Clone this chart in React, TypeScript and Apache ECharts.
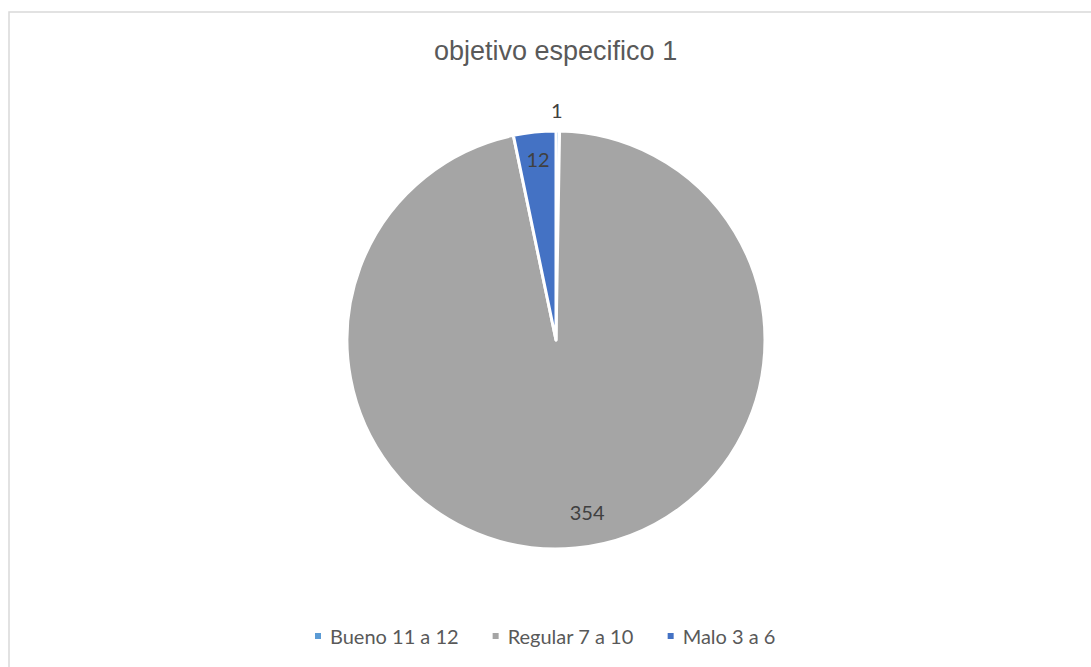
import React, { useEffect, useRef } from "react";
import * as echarts from "echarts";

const titleText = "objetivo especifico 1";
const categories = ["Bueno 11 a 12", "Regular 7 a 10", "Malo 3 a 6"];
const values = [1, 354, 12];
const colors = ["#5b9bd5", "#a5a5a5", "#4472c4"];
const labelOffsets: [number, number][] = [[0, -123], [21, 65], [-7, -74]];

export default function App() {
  const ref = useRef<HTMLDivElement>(null);
  useEffect(() => {
    if (!ref.current) return;
    const chart = echarts.init(ref.current, null, { renderer: "svg" });
    chart.setOption({
      animation: false,
      backgroundColor: "#ffffff",
      title: {
        text: titleText,
        left: 429,
        top: 32,
        textStyle: { fontFamily: "Liberation Sans", fontSize: 27, fontWeight: "normal", color: "#595959" },
      },
      graphic: [
        {
          type: "rect",
          shape: { x: 9, y: 12, width: 1200, height: 800 },
          style: { fill: "none", stroke: "#d9d9d9", lineWidth: 1.5 },
          silent: true,
        },
      ],
      legend: {
        bottom: 16,
        left: 308,
        itemWidth: 8,
        itemHeight: 8,
        itemGap: 32,
        icon: "rect",
        textStyle: { fontFamily: "Lato", fontSize: 20, color: "#595959", padding: [0, 0, 0, 3] },
        data: categories,
      },
      series: [
        {
          type: "pie",
          center: [556, 340],
          radius: 209,
          startAngle: 90,
          clockwise: true,
          avoidLabelOverlap: false,
          itemStyle: { borderColor: "#ffffff", borderWidth: 3 },
          labelLine: { show: false },
          data: categories.map((c, i) => ({
            name: c,
            value: values[i],
            itemStyle: { color: colors[i] },
            label: {
              show: true,
              position: "inside",
              offset: labelOffsets[i],
              formatter: "{c}",
              fontFamily: "Lato",
              fontSize: 20,
              color: "#404040",
            },
          })),
        },
      ],
    });
    return () => chart.dispose();
  }, []);
  return <div ref={ref} style={{ position: "absolute", left: 0, top: 0, width: 1091, height: 667 }} />;
}
